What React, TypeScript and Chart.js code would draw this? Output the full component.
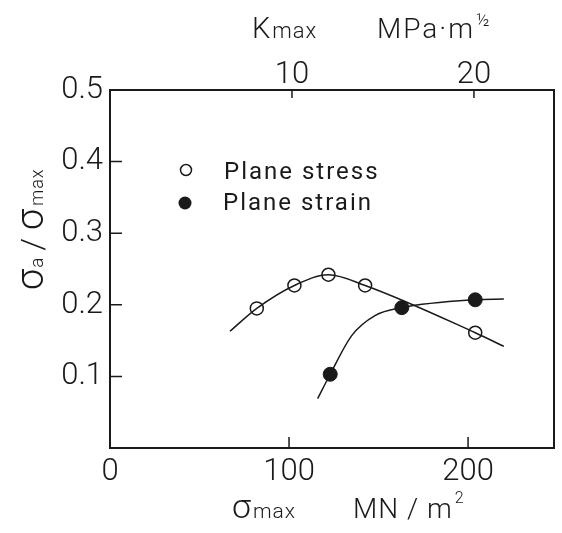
import React, { useEffect, useRef } from 'react';
import { Chart, registerables } from 'chart.js';

Chart.register(...registerables);

// ---- data ----
const stressSigma = [82, 103, 122, 142.5, 204];
const stressRatio = [0.195, 0.227, 0.242, 0.227, 0.161];
const strainSigma = [123, 163, 204];
const strainRatio = [0.103, 0.196, 0.207];

// hand-drawn trend curves through the points
const stressCurveSigma = [67, 82, 103, 122, 142.5, 204, 220];
const stressCurveRatio = [0.163, 0.195, 0.227, 0.242, 0.227, 0.161, 0.142];
const strainCurveSigma = [116, 123, 135, 148, 163, 204, 220];
const strainCurveRatio = [0.069, 0.103, 0.157, 0.185, 0.196, 0.207, 0.208];

// axes
const xTickValues = [0, 100, 200];
const kTickValues = [10, 20];
const yTickValues = [0.1, 0.2, 0.3, 0.4, 0.5];
const X_MIN = 0;
const X_MAX = 248;
const K_MIN = 0;
const K_MAX = 24.4;
const Y_MIN = 0;
const Y_MAX = 0.5;

const legendLabels = ['Plane stress', 'Plane strain'];

const INK = '#1a1a1a';
const FONT = "Roboto, 'Liberation Sans', sans-serif";
const FONT_WEIGHT = '300';

type Run = { text: string; size: number; dy?: number; gap?: number; spacing?: number };

function drawRuns(ctx: CanvasRenderingContext2D, x: number, y: number, runs: Run[]) {
  let cx = x;
  for (const r of runs) {
    cx += r.gap || 0;
    ctx.font = `${FONT_WEIGHT} ${r.size}px ${FONT}`;
    (ctx as any).letterSpacing = `${r.spacing || 0}px`;
    ctx.fillText(r.text, cx, y + (r.dy || 0));
    cx += ctx.measureText(r.text).width;
  }
  (ctx as any).letterSpacing = '0px';
}

const decorPlugin = {
  id: 'decor',
  afterDatasetsDraw(chart: any) {
    const { ctx, chartArea, scales } = chart;
    const { left, top, bottom } = chartArea;
    ctx.save();
    // inward tick marks
    ctx.strokeStyle = INK;
    ctx.lineWidth = 1.5;
    ctx.beginPath();
    yTickValues.filter((v) => v < Y_MAX).forEach((v) => {
      const py = scales.y.getPixelForValue(v);
      ctx.moveTo(left, py);
      ctx.lineTo(left + 12, py);
    });
    xTickValues.filter((v) => v > X_MIN).forEach((v) => {
      const px = scales.x.getPixelForValue(v);
      ctx.moveTo(px, bottom);
      ctx.lineTo(px, bottom - 11);
    });
    kTickValues.forEach((v) => {
      const px = scales.x2.getPixelForValue(v);
      ctx.moveTo(px, top);
      ctx.lineTo(px, top + 8);
    });
    ctx.stroke();

    // legend
    const lx = left + 76;
    const ly = [top + 80, top + 113];
    ctx.fillStyle = '#fff';
    ctx.lineWidth = 1.5;
    ctx.beginPath();
    ctx.arc(lx, ly[0], 5.5, 0, Math.PI * 2);
    ctx.fill();
    ctx.stroke();
    ctx.fillStyle = INK;
    ctx.beginPath();
    ctx.arc(lx - 1, ly[1], 6.5, 0, Math.PI * 2);
    ctx.fill();
    ctx.font = `400 24px ${FONT}`;
    (ctx as any).letterSpacing = '2px';
    ctx.textBaseline = 'middle';
    ctx.textAlign = 'left';
    ctx.fillText(legendLabels[0], lx + 38, ly[0] + 3);
    ctx.fillText(legendLabels[1], lx + 37, ly[1] + 1);
    (ctx as any).letterSpacing = '0px';

    // axis titles
    ctx.textBaseline = 'alphabetic';
    drawRuns(ctx, 252, 38, [
      { text: 'K', size: 29 },
      { text: 'max', size: 22, gap: 2, spacing: 1 },
    ]);
    drawRuns(ctx, 377, 38, [
      { text: 'MPa·m', size: 28, spacing: 2 },
      { text: '½', size: 18, dy: -12, gap: 1 },
    ]);
    drawRuns(ctx, 232, 518, [
      { text: 'σ', size: 34 },
      { text: 'max', size: 21, gap: 2, spacing: 1 },
    ]);
    drawRuns(ctx, 353, 518, [
      { text: 'MN / m', size: 28, spacing: 1 },
      { text: '2', size: 16, dy: -15, gap: 2 },
    ]);

    ctx.save();
    ctx.translate(43, 290);
    ctx.rotate(-Math.PI / 2);
    drawRuns(ctx, 0, 0, [
      { text: 'σ', size: 38 },
      { text: 'a', size: 19, gap: 1 },
      { text: '/', size: 32, gap: 7 },
      { text: 'σ', size: 38, gap: 8 },
      { text: 'max', size: 18, gap: 3, spacing: 1 },
    ]);
    ctx.restore();
    ctx.restore();
  },
};

function toPoints(xs: number[], ys: number[]) {
  return xs.map((x, i) => ({ x, y: ys[i] }));
}

export default function App() {
  const ref = useRef<HTMLCanvasElement | null>(null);
  useEffect(() => {
    if (!ref.current) return;
    const tickFont = { family: FONT, size: 31, weight: FONT_WEIGHT };
    const chart = new Chart(ref.current, {
      type: 'line',
      data: {
        datasets: [
          {
            label: 'stress curve',
            data: toPoints(stressCurveSigma, stressCurveRatio),
            borderColor: INK,
            borderWidth: 1.5,
            pointRadius: 0,
            cubicInterpolationMode: 'monotone',
            fill: false,
          },
          {
            label: 'strain curve',
            data: toPoints(strainCurveSigma, strainCurveRatio),
            borderColor: INK,
            borderWidth: 1.5,
            pointRadius: 0,
            cubicInterpolationMode: 'monotone',
            fill: false,
          },
          {
            label: legendLabels[0],
            data: toPoints(stressSigma, stressRatio),
            showLine: false,
            pointRadius: 6.5,
            pointBackgroundColor: '#fff',
            pointBorderColor: INK,
            pointBorderWidth: 1.5,
          },
          {
            label: legendLabels[1],
            data: toPoints(strainSigma, strainRatio),
            showLine: false,
            pointRadius: 7,
            pointBackgroundColor: INK,
            pointBorderColor: INK,
            pointBorderWidth: 1,
          },
        ],
      },
      options: {
        animation: false,
        responsive: false,
        layout: { padding: 0 },
        plugins: { legend: { display: false }, tooltip: { enabled: false } },
        scales: {
          x: {
            type: 'linear',
            position: 'bottom',
            min: X_MIN,
            max: X_MAX,
            afterFit: (s: any) => { s.height = 85; },
            ticks: {
              stepSize: 100,
              includeBounds: false,
              autoSkip: false,
              maxRotation: 0,
              font: tickFont,
              color: INK,
              padding: 6,
              callback: (v: any) => (xTickValues.includes(v) ? String(v) : ''),
            },
            grid: { drawOnChartArea: false, drawTicks: false },
            border: { display: true, color: INK, width: 2 },
          },
          x2: {
            type: 'linear',
            position: 'top',
            min: K_MIN,
            max: K_MAX,
            afterFit: (s: any) => { s.height = 90; },
            ticks: {
              stepSize: 10,
              includeBounds: false,
              autoSkip: false,
              maxRotation: 0,
              font: tickFont,
              color: INK,
              padding: -4,
              callback: (v: any) => (kTickValues.includes(v) ? String(v) : ''),
            },
            grid: { drawOnChartArea: false, drawTicks: false },
            border: { display: true, color: INK, width: 2 },
          },
          y: {
            type: 'linear',
            position: 'left',
            min: Y_MIN,
            max: Y_MAX,
            afterFit: (s: any) => { s.width = 110; },
            ticks: {
              stepSize: 0.1,
              font: tickFont,
              color: INK,
              padding: 7,
              callback: (v: any) => {
                const n = Math.round(v * 10) / 10;
                return yTickValues.includes(n) ? n.toFixed(1) : '';
              },
            },
            grid: { drawOnChartArea: false, drawTicks: false },
            border: { display: true, color: INK, width: 2 },
          },
          y2: {
            type: 'linear',
            position: 'right',
            min: Y_MIN,
            max: Y_MAX,
            afterFit: (s: any) => { s.width = 7; },
            ticks: { display: false },
            grid: { drawOnChartArea: false, drawTicks: false },
            border: { display: true, color: INK, width: 2 },
          },
        },
      } as any,
      plugins: [decorPlugin],
    });
    return () => chart.destroy();
  }, []);

  return (
    <div style={{ position: 'fixed', left: 0, top: 0, width: 562, height: 533, background: '#fff' }}>
      <canvas ref={ref} width={562} height={533} style={{ display: 'block' }} />
    </div>
  );
}
